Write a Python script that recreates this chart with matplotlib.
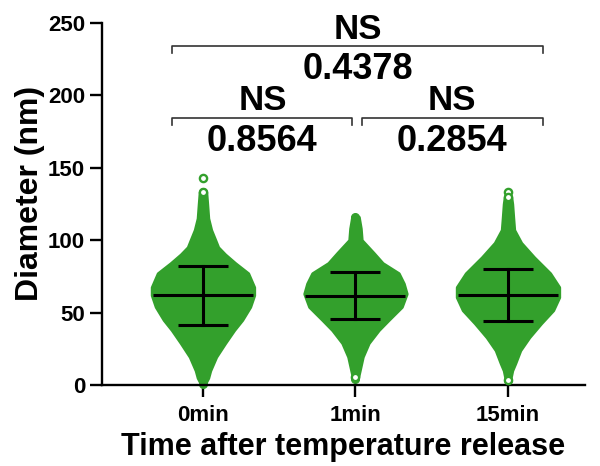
import matplotlib
matplotlib.use("Agg")
import matplotlib.pyplot as plt
import numpy as np

plt.rcParams['font.family'] = ['Liberation Sans', 'DejaVu Sans']
plt.rcParams['font.weight'] = 'bold'

# ---------------- data ----------------
groups = ["0min", "1min", "15min"]

# swarm outline: diameter levels (nm) and half-width of the swarm (category units)
dia_0min = [1, 5, 10, 19.5, 29, 38, 45, 54, 62, 67.5, 77, 84, 90, 95, 100, 107, 115, 125, 133]
width_0min = [0.013, 0.033, 0.046, 0.085, 0.144, 0.203, 0.256, 0.308, 0.334, 0.334, 0.295,
              0.210, 0.144, 0.098, 0.079, 0.052, 0.033, 0.026, 0.020]
dia_1min = [4, 10, 19.5, 29, 38, 45, 54, 63, 70, 77, 84, 91, 100, 108, 116]
width_1min = [0.013, 0.026, 0.046, 0.085, 0.151, 0.216, 0.302, 0.334, 0.315, 0.282, 0.177,
              0.118, 0.039, 0.033, 0.020]
dia_15min = [3.4, 10, 15, 24, 33, 42.7, 51.7, 60.6, 67.5, 77, 88, 98, 107, 115, 125, 129.5]
width_15min = [0.013, 0.026, 0.046, 0.079, 0.138, 0.216, 0.295, 0.334, 0.334, 0.275, 0.170,
               0.085, 0.039, 0.033, 0.026, 0.020]

# isolated points (open circles)
outliers_0min = [142.5, 133]
outliers_1min = [5.5]
outliers_15min = [133, 129.5, 3.4]

means = [61.8, 61.7, 62.0]
sds = [20.4, 16.2, 18.0]

# comparisons: (x_start, x_end, bracket level, NS label, p-value)
comparisons = [
    (-0.20, 0.98, 184.5, "NS", "0.8564"),
    (1.04, 2.23, 184.5, "NS", "0.2854"),
    (-0.20, 2.23, 234.0, "NS", "0.4378"),
]

yticks = [0, 50, 100, 150, 200, 250]

# ---------------- plot ----------------
green = "#33a02c"
fig = plt.figure(figsize=(6.0, 4.66), dpi=100)
ax = fig.add_axes([0.17, 0.1738, 0.805, 0.7775])

profiles = [(dia_0min, width_0min), (dia_1min, width_1min), (dia_15min, width_15min)]
outliers = [outliers_0min, outliers_1min, outliers_15min]

for i, (d, w) in enumerate(profiles):
    d = np.asarray(d, float)
    w = np.asarray(w, float)
    ax.fill_betweenx(d, i - w, i + w, facecolor=green, edgecolor=green,
                     linewidth=2.5, joinstyle='round', zorder=2)
    # rounded tips of the swarm
    ax.plot([i, i], [d[0], d[-1]], 'o', ms=5.5, mfc=green, mec=green, zorder=2,
            clip_on=False)
    ax.plot(np.full(len(outliers[i]), i), outliers[i], 'o', ms=5.2,
            mfc='white', mec=green, mew=1.7, zorder=3, clip_on=False)

for i, (m, s) in enumerate(zip(means, sds)):
    ax.plot([i - 0.328, i + 0.328], [m, m], color='black', lw=2.2, zorder=4,
            solid_capstyle='butt')
    ax.plot([i, i], [m - s, m + s], color='black', lw=2.2, zorder=4)
    for yy in (m - s, m + s):
        ax.plot([i - 0.164, i + 0.164], [yy, yy], color='black', lw=2.2, zorder=4,
                solid_capstyle='butt')

for x0, x1, lvl, ns, p in comparisons:
    ax.plot([x0, x0, x1, x1], [lvl - 5, lvl, lvl, lvl - 5], color='#333333', lw=1.2,
            clip_on=False, zorder=5)
    xc = (x0 + x1) / 2
    ax.text(xc, lvl + 5, ns, ha='center', va='baseline', fontsize=25,
            fontweight='bold', clip_on=False)
    ax.text(xc, lvl - 23, p, ha='center', va='baseline', fontsize=26,
            fontweight='bold', clip_on=False)

ax.set_xlim(-0.662, 2.505)
ax.set_ylim(0, 250)
ax.set_yticks(yticks)
ax.set_xticks(range(len(groups)))
ax.set_xticklabels(groups)
for sp in ['top', 'right']:
    ax.spines[sp].set_visible(False)
for sp in ['left', 'bottom']:
    ax.spines[sp].set_linewidth(1.7)
ax.tick_params(axis='both', length=8.6, width=1.7, labelsize=16)
ax.tick_params(axis='y', pad=3.5)
ax.tick_params(axis='x', pad=6)
for lab in ax.get_xticklabels() + ax.get_yticklabels():
    lab.set_fontweight('bold')

ax.set_xlabel("Time after temperature release", fontsize=22, fontweight='bold', labelpad=4)
ax.set_ylabel("Diameter (nm)", fontsize=23, fontweight='bold')
ax.yaxis.set_label_coords(-0.118, 0.53)

fig.savefig("out.png", dpi=100)
